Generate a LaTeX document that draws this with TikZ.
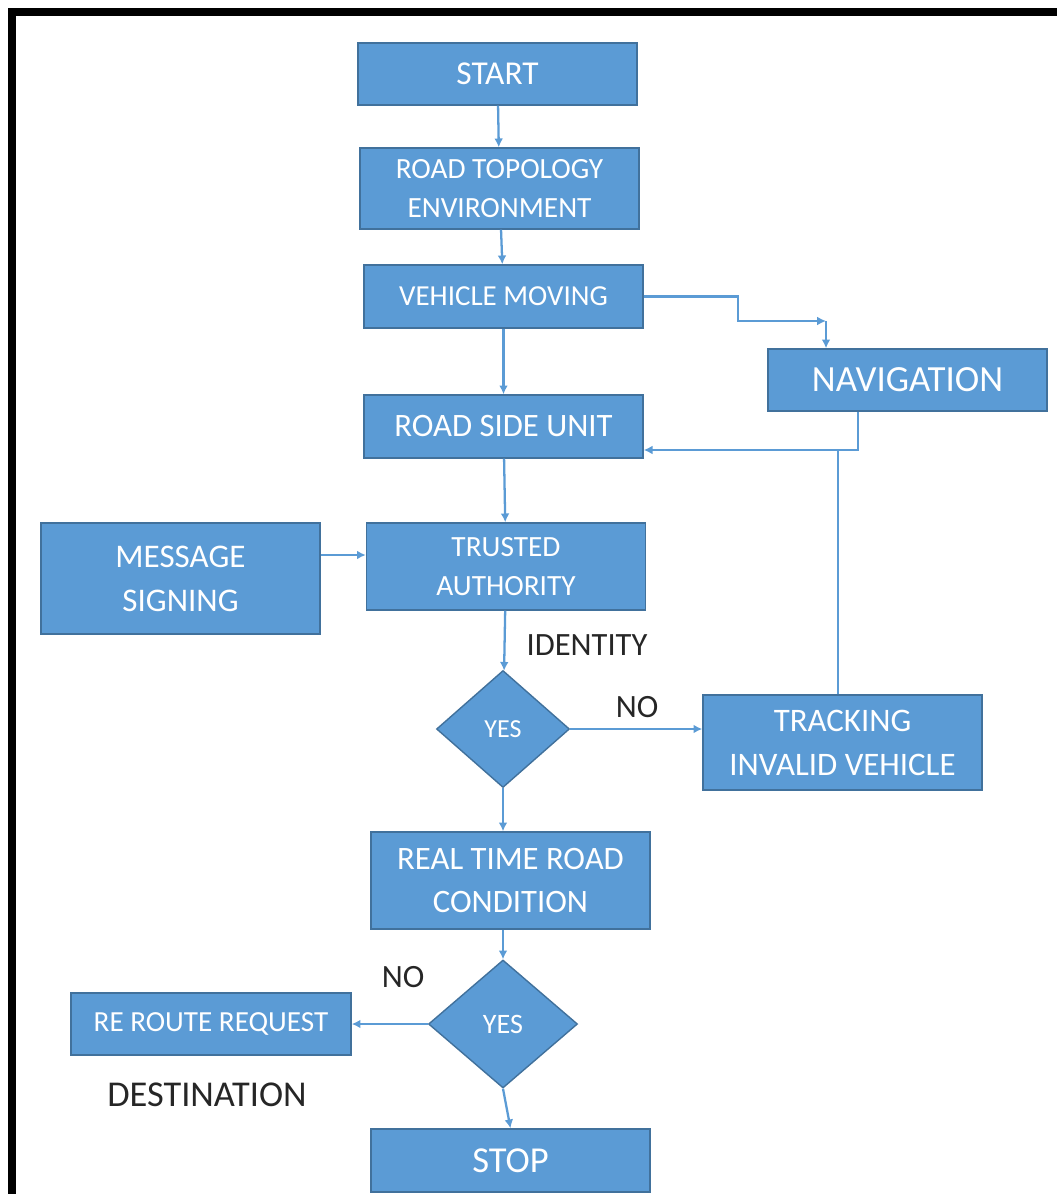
\documentclass[tikz,border=0pt]{standalone}
\usepackage{fontspec}
\setmainfont{Carlito}
\usetikzlibrary{shapes.geometric,arrows.meta}
\definecolor{boxblue}{HTML}{5B9BD5}
\definecolor{boxedge}{HTML}{41719C}
\tikzset{
  box/.style={draw=boxedge,fill=boxblue,text=white,line width=0.8pt,
    minimum width=5.58cm,inner sep=0pt,align=center},
  decision/.style={diamond,draw=boxedge,fill=boxblue,text=white,line width=0.8pt,
    inner sep=0pt,aspect=1.1},
  flow/.style={->,draw=boxblue,line width=1.3pt},
  lbl/.style={text=black!85,font=\fontsize{18.5}{22}\selectfont}
}
\begin{document}
\begin{tikzpicture}[x=0.2mm,y=-0.2mm,>={Latex[length=5pt,width=5pt]}]
  \useasboundingbox (0,0) rectangle (1057,1194);

  % 外框
  \draw[line width=4.5pt] (12,1194) -- (12,12) -- (1057,12);

  % 流程框
  \node[box,minimum height=1.24cm,font=\fontsize{19}{23}\selectfont] (start) at (497.5,74) {START};
  \node[box,minimum height=1.62cm,font=\fontsize{16.7}{22.5}\selectfont] (topo) at (499.5,188.5) {ROAD TOPOLOGY\\ENVIRONMENT};
  \node[box,minimum height=1.26cm,font=\fontsize{16.5}{22}\selectfont] (vm) at (503.5,296.5) {VEHICLE MOVING};
  \node[box,minimum height=1.24cm,font=\fontsize{21}{25}\selectfont] (nav) at (907.5,380) {NAVIGATION};
  \node[box,minimum height=1.26cm,font=\fontsize{18.6}{22}\selectfont] (rsu) at (503.5,426.5) {ROAD SIDE UNIT};
  \node[box,minimum height=2.22cm,font=\fontsize{18.8}{25}\selectfont] (ms) at (180.5,578.5) {MESSAGE\\SIGNING};
  \node[box,minimum height=1.74cm,font=\fontsize{16.7}{22.5}\selectfont] (ta) at (506,566.5) {TRUSTED\\AUTHORITY};
  \node[decision,minimum width=2.66cm,minimum height=2.34cm,font=\fontsize{14.8}{17}\selectfont] (d1) at (503,729) {YES};
  \node[box,minimum height=1.9cm,font=\fontsize{18.7}{25}\selectfont] (track) at (842.5,742.5) {TRACKING\\INVALID VEHICLE};
  \node[box,minimum height=1.94cm,font=\fontsize{18.6}{25}\selectfont] (rt) at (510.5,880.5) {REAL TIME ROAD\\CONDITION};
  \node[decision,minimum width=2.98cm,minimum height=2.56cm,font=\fontsize{16}{18}\selectfont] (d2) at (503,1024) {YES};
  \node[box,minimum width=5.6cm,minimum height=1.24cm,font=\fontsize{16.6}{22}\selectfont] (rr) at (211,1024) {RE ROUTE REQUEST};
  \node[box,minimum height=1.26cm,font=\fontsize{20.8}{25}\selectfont] (stop) at (510.5,1160.5) {STOP};

  % 辅助点
  \coordinate (bend) at (738,321);
  \coordinate (navin) at (826,321);
  \coordinate (joint) at (858,450);
  \coordinate (msrow) at (0,555);

  % 连线
  \draw[flow] (start) -- (topo);
  \draw[flow] (topo) -- (vm);
  \draw[flow] (vm) -- (rsu);
  \draw[flow] (vm.east) -| (bend) -- (navin);
  \draw[flow] (navin) -- (navin |- nav.north);
  \draw[flow] (nav.south -| joint) -- (joint) -- (joint -| rsu.east);
  \draw[flow,-] ([xshift=-0.9mm]track.north) -- ([xshift=-0.9mm]track.north |- joint);
  \draw[flow] (rsu) -- (ta);
  \draw[flow] (ms.east |- msrow) -- (ta.west |- msrow);
  \draw[flow] (ta) -- (d1);
  \draw[flow] (d1.east) -- (track.west |- d1.east);
  \draw[flow] (d1.south) -- (d1.south |- rt.north);
  \draw[flow] (d2.north |- rt.south) -- (d2.north);
  \draw[flow] (d2.west) -- (rr.east);
  \draw[flow] (d2.south) -- (stop.north);

  % 文字标注
  \node[lbl] (identity) at (587,645) {IDENTITY};
  \node[lbl] (no1) at (637,707) {NO};
  \node[lbl] (no2) at (403,977) {NO};
  \node[lbl,font=\fontsize{20.7}{24}\selectfont] (dest) at (207,1095) {DESTINATION};
\end{tikzpicture}
\end{document}
